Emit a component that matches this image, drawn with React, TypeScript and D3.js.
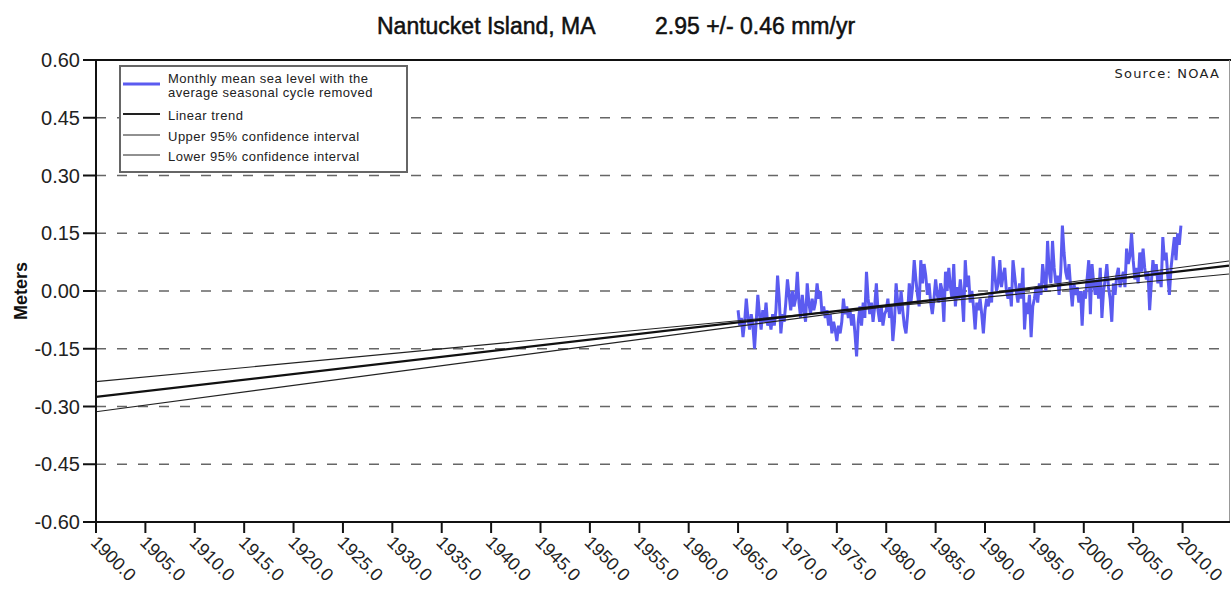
import React from 'react';
import * as d3 from 'd3';

// chart text
const titleLeft = 'Nantucket Island, MA';
const titleRight = '2.95 +/- 0.46 mm/yr';
const sourceText = 'Source: NOAA';
const yTitle = 'Meters';

// axis ticks
const yTicks = [-0.6, -0.45, -0.3, -0.15, 0, 0.15, 0.3, 0.45, 0.6];
const xTicks = [1900, 1905, 1910, 1915, 1920, 1925, 1930, 1935, 1940, 1945, 1950, 1955,
  1960, 1965, 1970, 1975, 1980, 1985, 1990, 1995, 2000, 2005, 2010];

// legend entries
const legendLabels = [
  ['Monthly mean sea level with the', 'average seasonal cycle removed'],
  ['Linear trend'],
  ['Upper 95% confidence interval'],
  ['Lower 95% confidence interval'],
];

// linear trend and its confidence lines (end points)
const lineYears = [1900, 2014.7];
const trendValues = [-0.275, 0.066];
const upperValues = [-0.3135, 0.078];
const lowerValues = [-0.2355, 0.044];

// monthly sea level (read every 2 months), starting 1965
const seriesStart = 1965;
const samplesPerYear = 6;
const seaLevel = [
  -0.05, -0.09, -0.07, -0.12, -0.08, -0.02, // 1965
  -0.07, -0.10, -0.06, -0.09, -0.15, -0.08,
  -0.01, -0.06, -0.10, -0.05, -0.08, -0.03,
  -0.09, -0.07, -0.10, -0.06, -0.09, -0.05,
  0.04, -0.02, -0.11, -0.06, -0.08, -0.03,
  0.03, -0.01, -0.05, 0.00, -0.04, -0.02, // 1970
  0.05, -0.03, -0.07, -0.01, -0.05, -0.08,
  0.02, -0.03, -0.06, -0.02, -0.05, -0.03,
  0.02, -0.02, 0.00, -0.06, -0.04, -0.07,
  -0.05, -0.09, -0.06, -0.11, -0.08, -0.10,
  -0.13, -0.09, -0.11, -0.08, -0.02, -0.06, // 1975
  -0.04, -0.07, -0.05, -0.09, -0.06, -0.11,
  -0.17, -0.08, -0.04, -0.09, -0.03, -0.07,
  0.05, -0.02, -0.06, -0.03, -0.08, -0.04,
  0.02, -0.05, -0.08, -0.04, -0.09, -0.06,
  -0.05, -0.02, -0.07, -0.04, -0.13, -0.08, // 1980
  0.02, -0.03, -0.06, 0.00, -0.05, -0.09,
  -0.11, -0.06, 0.02, -0.03, 0.01, 0.08,
  0.03, -0.01, -0.04, 0.08, 0.02, 0.07,
  0.04, -0.01, 0.02, -0.03, -0.06, -0.02,
  0.03, -0.01, -0.03, 0.02, 0.00, -0.08, // 1985
  0.05, 0.00, 0.06, 0.01, -0.02, 0.07,
  -0.04, 0.01, -0.02, 0.03, -0.01, -0.08,
  0.08, 0.01, 0.04, -0.03, 0.00, -0.04,
  -0.10, -0.03, -0.05, -0.02, -0.06, -0.11,
  -0.05, -0.02, -0.04, -0.01, -0.03, 0.09, // 1990
  0.04, 0.00, 0.02, 0.08, 0.01, 0.04,
  0.06, 0.00, -0.02, 0.01, -0.04, 0.08,
  0.04, 0.00, -0.03, 0.02, -0.02, 0.06,
  -0.10, -0.03, -0.06, -0.01, -0.12, -0.04,
  -0.02, 0.01, -0.03, 0.02, -0.01, 0.07, // 1995
  0.03, 0.00, 0.13, 0.05, 0.02, 0.13,
  0.06, 0.02, 0.04, -0.01, 0.05, 0.17,
  0.10, 0.05, 0.03, 0.07, 0.01, -0.04,
  0.02, -0.01, 0.01, -0.03, 0.00, -0.09,
  0.00, -0.02, 0.03, 0.08, -0.06, 0.07, // 2000
  0.02, -0.01, 0.03, -0.02, 0.06, -0.07,
  0.00, 0.03, 0.07, 0.01, -0.02, -0.08,
  0.02, -0.01, 0.04, 0.06, 0.01, 0.03,
  0.05, 0.01, 0.11, 0.07, 0.09, 0.15,
  0.08, 0.03, 0.06, 0.02, 0.10, 0.05, // 2005
  0.11, 0.06, 0.03, 0.05, -0.05, 0.02,
  0.08, 0.04, 0.07, 0.02, 0.05, 0.01,
  0.14, 0.08, 0.10, 0.04, -0.01, 0.06,
  0.10, 0.14, 0.08, 0.15, 0.12, 0.17,
];

const width = 1231;
const height = 589;
const left = 96;
const right = 1229;
const top = 60;
const bottom = 522;

const App = () => {
  const x = d3.scaleLinear().domain([1900, 2014.7]).range([left, right]);
  const y = d3.scaleLinear().domain([-0.6, 0.6]).range([bottom, top]);

  const seaLine = d3
    .line<number>()
    .x((d, i) => x(seriesStart + i / samplesPerYear))
    .y(d => y(d));

  const straight = d3
    .line<number>()
    .x((d, i) => x(lineYears[i]))
    .y(d => y(d));

  const arial = '"Liberation Sans", Arial, sans-serif';

  // legend sample styles
  const legendStyles = [
    { color: '#5b5bf0', w: 3 },
    { color: '#222', w: 2.2 },
    { color: '#222', w: 1 },
    { color: '#222', w: 1 },
  ];
  const legendRowsY = [84, 114, 135, 155];

  return (
    <svg
      width={width}
      height={height}
      style={{ position: 'absolute', left: 0, top: 0, background: '#fff' }}
      fontFamily={arial}
    >
      {/* title */}
      <text x={377} y={34} fontSize={23} fill="#111" stroke="#111" strokeWidth={0.5}>{titleLeft}</text>
      <text x={655} y={34} fontSize={23} fill="#111" stroke="#111" strokeWidth={0.5}>{titleRight}</text>

      {/* dashed grid */}
      {yTicks.filter(t => t > -0.6 && t < 0.6).map(t => (
        <line
          key={'g' + t}
          x1={left}
          x2={right}
          y1={y(t)}
          y2={y(t)}
          stroke="#666"
          strokeWidth={1.5}
          strokeDasharray="10 11"
        />
      ))}

      {/* sea level data */}
      <path d={seaLine(seaLevel) || ''} fill="none" stroke="#5b5bf0" strokeWidth={3} strokeLinejoin="miter" />

      {/* trend + confidence lines */}
      <path d={straight(upperValues) || ''} fill="none" stroke="#222" strokeWidth={1.1} />
      <path d={straight(lowerValues) || ''} fill="none" stroke="#222" strokeWidth={1.1} />
      <path d={straight(trendValues) || ''} fill="none" stroke="#111" strokeWidth={2.2} />

      {/* frame */}
      <line x1={left} x2={width} y1={top} y2={top} stroke="#111" strokeWidth={2} />
      <line x1={right + 0.5} x2={right + 0.5} y1={top} y2={bottom} stroke="#999" strokeWidth={1} />
      <line x1={left} x2={left} y1={top - 1} y2={bottom + 1} stroke="#111" strokeWidth={2} />
      <line x1={left - 1} x2={right + 1} y1={bottom} y2={bottom} stroke="#111" strokeWidth={2} />

      {/* y axis */}
      {yTicks.map(t => (
        <g key={'y' + t}>
          <line x1={83} x2={left} y1={y(t)} y2={y(t)} stroke="#111" strokeWidth={2} />
          <text x={80} y={y(t) + 7} fontSize={20} textAnchor="end" fill="#222">
            {t.toFixed(2)}
          </text>
        </g>
      ))}
      <text
        transform={`translate(27, ${y(0)}) rotate(-90)`}
        fontSize={18}
        fontWeight="bold"
        textAnchor="middle"
        fill="#111"
      >
        {yTitle}
      </text>

      {/* x axis */}
      {xTicks.map(t => (
        <g key={'x' + t}>
          <line x1={x(t)} x2={x(t)} y1={bottom} y2={bottom + 11} stroke="#111" strokeWidth={2} />
          <text
            transform={`translate(${x(t)}, ${bottom + 8}) rotate(45)`}
            x={5}
            y={14}
            fontSize={18}
            fill="#222"
          >
            {t.toFixed(1)}
          </text>
        </g>
      ))}

      {/* source */}
      <text
        x={1220}
        y={78}
        fontSize={13}
        textAnchor="end"
        fill="#222"
        fontFamily='"DejaVu Sans", sans-serif'
        letterSpacing={1.2}
      >
        {sourceText}
      </text>

      {/* legend */}
      <rect x={120} y={66} width={287} height={106} fill="#fff" stroke="#666" strokeWidth={2} />
      {legendLabels.map((lines, i) => (
        <g key={'l' + i}>
          <line
            x1={123}
            x2={160}
            y1={legendRowsY[i]}
            y2={legendRowsY[i]}
            stroke={legendStyles[i].color}
            strokeWidth={legendStyles[i].w}
          />
          {lines.map((s, j) => (
            <text
              key={j}
              x={168}
              y={(i === 0 ? 83 : legendRowsY[i] + 6) + j * 14}
              fontSize={13}
              letterSpacing={0.5}
              fill="#222"
            >
              {s}
            </text>
          ))}
        </g>
      ))}
    </svg>
  );
};

export default App;
